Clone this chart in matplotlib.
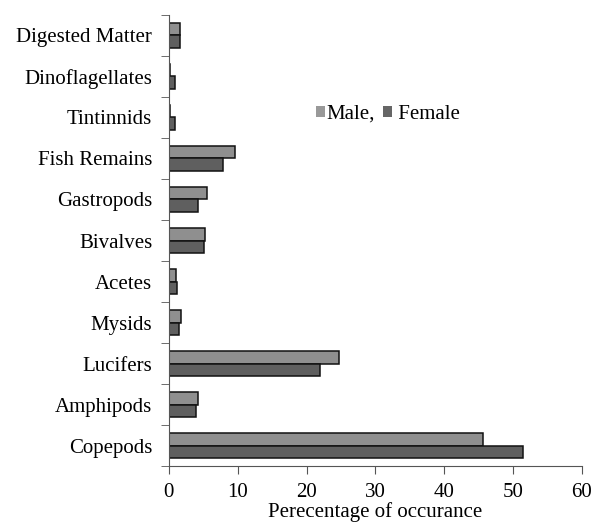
import numpy as np
import matplotlib.pyplot as plt
from matplotlib.patches import Patch

# categories listed bottom to top
categories = ['Copepods', 'Amphipods', 'Lucifers', 'Mysids', 'Acetes', 'Bivalves',
              'Gastropods', 'Fish Remains', 'Tintinnids', 'Dinoflagellates', 'Digested Matter']
male = [45.7, 4.2, 24.7, 1.7, 1.0, 5.2, 5.6, 9.6, 0.2, 0.2, 1.6]
female = [51.5, 3.9, 21.9, 1.5, 1.2, 5.1, 4.2, 7.8, 0.9, 0.9, 1.6]
xticks = [0, 10, 20, 30, 40, 50, 60]

plt.rcParams['font.family'] = 'Liberation Serif'
plt.rcParams['font.size'] = 15

fig, ax = plt.subplots(figsize=(6.01, 5.28), dpi=100)
fig.subplots_adjust(left=0.281, right=0.968, top=0.972, bottom=0.117)

y = np.arange(len(categories))
h = 0.3
ax.barh(y + h / 2, male, height=h, color='#8f8f8f', edgecolor='#111111', linewidth=1.1)
ax.barh(y - h / 2, female, height=h, color='#5f5f5f', edgecolor='#111111', linewidth=1.1)

ax.set_xlim(0, 60)
ax.set_xticks(xticks)
ax.set_ylim(-0.5, len(categories) - 0.5)
ax.set_yticks(y)
ax.set_yticklabels(categories)
ax.set_yticks(np.arange(-0.5, len(categories)), minor=True)
ax.tick_params(axis='y', which='major', length=0, pad=12)
ax.tick_params(axis='y', which='minor', length=6, color='#555555')
ax.tick_params(axis='x', length=6, color='#555555', pad=6)
ax.set_xlabel('Perecentage of occurance', labelpad=0)

for s in ['top', 'right']:
    ax.spines[s].set_visible(False)
for s in ['left', 'bottom']:
    ax.spines[s].set_color('#555555')

handles = [Patch(facecolor='#999999', edgecolor='none'), Patch(facecolor='#666666', edgecolor='none')]
ax.legend(handles, ['Male,', ' Female'], ncol=2, frameon=False, loc='center left',
          bbox_to_anchor=(0.335, 0.78), handlelength=0.45, handleheight=0.45,
          handletextpad=0.05, columnspacing=0.4, borderaxespad=0)

fig.savefig('out.png', dpi=100)
